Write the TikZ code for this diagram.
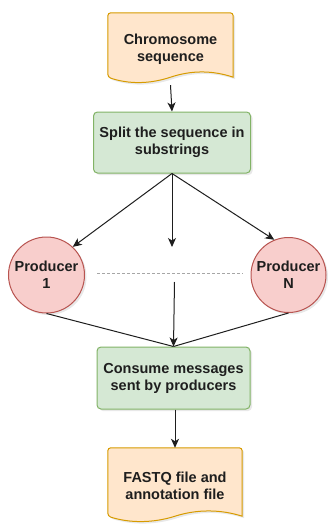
\documentclass[tikz,border=0pt]{standalone}
\usepackage{fontspec}
\setmainfont{Liberation Sans}
\usetikzlibrary{arrows.meta,calc,shadows,backgrounds}

\definecolor{docfill}{HTML}{FFE6CC}
\definecolor{docdraw}{HTML}{D79B00}
\definecolor{boxfill}{HTML}{D5E8D4}
\definecolor{boxdraw}{HTML}{82B366}
\definecolor{prodfill}{HTML}{F8CECC}
\definecolor{proddraw}{HTML}{B85450}
\definecolor{ink}{HTML}{1E1E1E}

\tikzset{
  soft shadow/.style={drop shadow={opacity=0.18, shadow xshift=2pt, shadow yshift=-2pt}},
  label text/.style={font=\fontsize{14.5}{17}\selectfont\bfseries, text=ink, align=center},
  docnode/.style={label text, rectangle, inner sep=0pt},
  docshape/.style={draw=docdraw, fill=docfill, line width=1pt, soft shadow},
  stepbox/.style={label text, rectangle, rounded corners=4pt, draw=boxdraw,
    fill=boxfill, line width=1pt, soft shadow},
  producer/.style={label text, circle, draw=proddraw, fill=prodfill,
    line width=1pt, inner sep=0pt, soft shadow},
  flow/.style={draw=ink, line width=1pt, -{Stealth[length=9pt,width=8pt,inset=2.5pt]}},
  feed/.style={draw=ink, line width=1pt},
  gapline/.style={draw=gray!70, line width=1pt, dash pattern=on 3pt off 2pt},
}

% document outline around node #1: straight sides ending 8pt above the
% node's south edge, wavy bottom with horizontal control reach #2
\newcommand\docframe[2]{%
  \path[docshape]
    ([yshift=8pt]#1.south east) [rounded corners=3pt]
    -- (#1.north east) -- (#1.north west) -- ([yshift=8pt]#1.south west)
    [sharp corners]
    .. controls +(#2,7) and +(-#2,7) .. ([yshift=8pt]#1.south)
    .. controls +(#2,-7) and +(-#2,-7) .. ([yshift=8pt]#1.south east)
    -- cycle;
}

\begin{document}
\begin{tikzpicture}[x=1pt,y=-1pt]
  \useasboundingbox (0,0) rectangle (328,525);

  % input and output documents
  \node[docnode, minimum width=125pt, minimum height=72pt] (chrom) at (170.5,49)
    {Chromosome\\sequence};
  \node[docnode, minimum width=134pt, minimum height=76pt] (fastq) at (175,486)
    {FASTQ file and\\annotation file};
  \begin{scope}[on background layer]
    \fill[white] (0,0) rectangle (328,525);
    \docframe{chrom}{21}
    \docframe{fastq}{22}
  \end{scope}

  % processing steps
  \node[stepbox, minimum width=157pt, minimum height=61pt] (split) at (172,142.5)
    {Split the sequence in\\substrings};
  \node[stepbox, minimum width=153pt, minimum height=62pt] (consume) at (173.5,378)
    {Consume messages\\sent by producers};

  % producers
  \node[producer, minimum size=76pt] (p1) at (46.5,275) {Producer\\1};
  \node[producer, minimum size=75pt] (pN) at (288.5,275) {Producer\\N};

  \coordinate (gap) at (172,247);
  \coordinate (dl) at (97,273);
  \coordinate (dr) at (243,273);
  \coordinate (mid) at (174.5,282);

  % connectors
  \draw[flow] (chrom.south) -- (split.north);
  \draw[flow] (split.south) -- (p1.47);
  \draw[flow] (split.south) -- (gap);
  \draw[flow] (split.south) -- (pN.112);
  \draw[gapline] (dl) -- (dr);
  \draw[feed] (p1.south) -- (consume.north);
  \draw[feed] (pN.south) -- (consume.north);
  \draw[flow] (mid) -- (consume.north);
  \draw[flow] (consume.south -| fastq.north) -- (fastq.north);
\end{tikzpicture}
\end{document}
